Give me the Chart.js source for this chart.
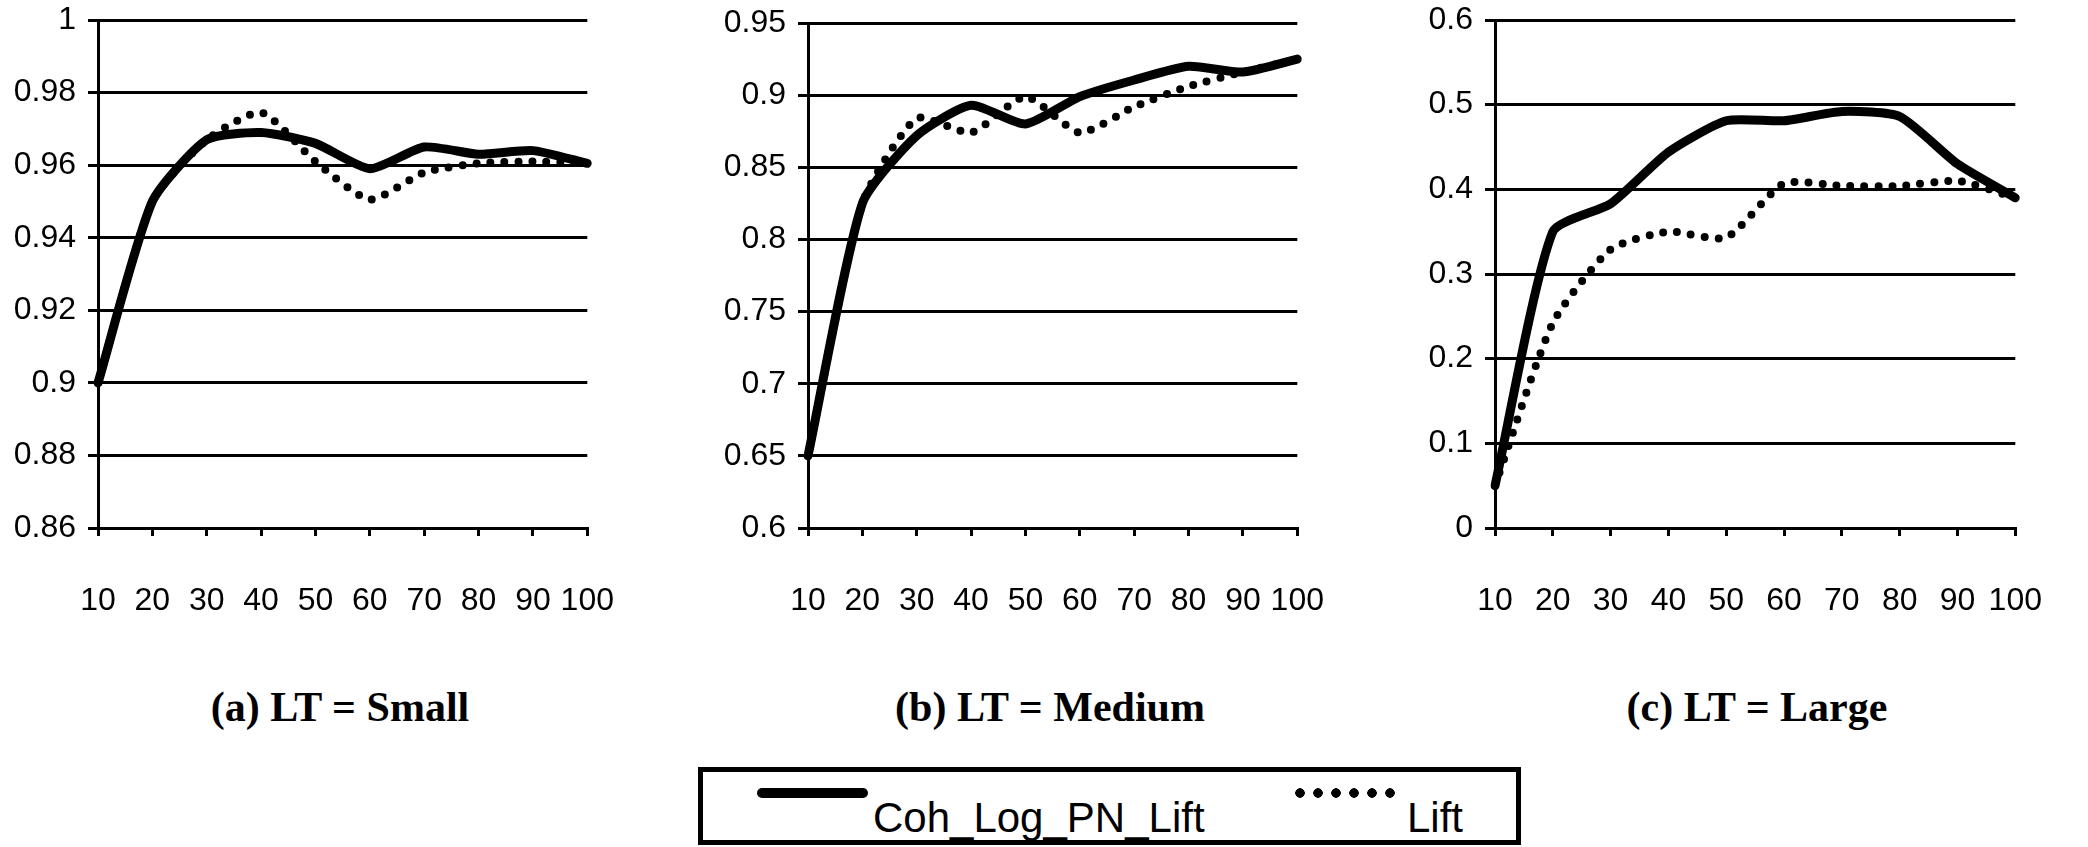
<!DOCTYPE html>
<html>
<head>
<meta charset="utf-8">
<script src="https://cdn.jsdelivr.net/npm/chart.js@4.4.1/dist/chart.umd.min.js"></script>
<style>
  html, body { margin: 0; padding: 0; background: #fff; }
  body { position: relative; width: 2088px; height: 847px; overflow: hidden; }
  canvas { position: absolute; top: 0; }
  .title {
    position: absolute; top: 686px; width: 400px; margin-left: -200px;
    text-align: center; font: bold 42px/42px "Liberation Serif", "Times New Roman", serif; color: #000;
  }
  #legend {
    position: absolute; left: 698px; top: 767px; width: 823px; height: 78px;
    box-sizing: border-box; border: 5px solid #000; background: #fff;
  }
  #legend .txt {
    position: absolute; top: 25px; white-space: nowrap;
    font: 42px/42px "Liberation Sans Narrow", "Liberation Sans", sans-serif; color: #000;
  }
  #legend .solid {
    position: absolute; left: 54px; top: 16px; width: 111px; height: 10px;
    background: #000; border-radius: 5px;
  }
  #legend .dots {
    position: absolute; left: 588px; top: 16px; width: 108px; height: 10px;
    background: radial-gradient(circle, #000 4.5px, transparent 5px) repeat-x;
    background-size: 18px 10px;
  }
</style>
</head>
<body>
<canvas id="small_chart_area" width="660" height="640" style="left:0px;width:660px;height:640px"></canvas>
<canvas id="medium_chart_area" width="660" height="640" style="left:710px;width:660px;height:640px"></canvas>
<canvas id="large_chart_area" width="691" height="640" style="left:1397px;width:691px;height:640px"></canvas>

<div class="title" style="left:340px">(a) LT = Small</div>
<div class="title" style="left:1050px">(b) LT = Medium</div>
<div class="title" style="left:1757px">(c) LT = Large</div>

<div id="legend">
  <div class="solid"></div>
  <div class="txt" style="left:170px">Coh_Log_PN_Lift</div>
  <div class="dots"></div>
  <div class="txt" style="left:704px">Lift</div>
</div>

<script>
// x categories (shared by all three panels)
const x_labels = ["10", "20", "30", "40", "50", "60", "70", "80", "90", "100"];

// (a) LT = Small
const small_coh_log_pn_lift = [0.9, 0.95, 0.967, 0.969, 0.966, 0.959, 0.965, 0.963, 0.964, 0.9605];
const small_lift = [0.9, 0.95, 0.967, 0.9745, 0.961, 0.9505, 0.958, 0.9605, 0.961, 0.9605];
const small_y = { min: 0.86, max: 1, step: 0.02 };

// (b) LT = Medium
const medium_coh_log_pn_lift = [0.65, 0.825, 0.872, 0.893, 0.88, 0.899, 0.9105, 0.92, 0.916, 0.925];
const medium_lift = [0.65, 0.825, 0.884, 0.874, 0.899, 0.874, 0.892, 0.906, 0.916, 0.925];
const medium_y = { min: 0.6, max: 0.95, step: 0.05 };

// (c) LT = Large
const large_coh_log_pn_lift = [0.05, 0.35, 0.383, 0.444, 0.481, 0.481, 0.492, 0.486, 0.43, 0.39];
const large_lift = [0.05, 0.242, 0.329, 0.35, 0.343, 0.407, 0.404, 0.404, 0.41, 0.39];
const large_y = { min: 0, max: 0.6, step: 0.1 };

const FONT_FAMILY = "'Liberation Sans Narrow', 'Liberation Sans', sans-serif";

function panel(canvas_id, coh, lift, y_range, top_pad, right_pad) {
  const ctx = document.getElementById(canvas_id).getContext("2d");
  return new Chart(ctx, {
    type: "line",
    data: {
      labels: x_labels,
      datasets: [
        {
          label: "Coh_Log_PN_Lift",
          data: coh,
          borderColor: "#000",
          borderWidth: 9,
          borderCapStyle: "round",
          borderJoinStyle: "round",
          pointRadius: 0,
          tension: 0.2,
        },
        {
          label: "Lift",
          data: lift,
          borderColor: "#000",
          borderWidth: 8,
          borderDash: [0, 14],
          borderCapStyle: "round",
          pointRadius: 0,
          tension: 0.2,
        },
      ],
    },
    options: {
      responsive: false,
      animation: false,
      layout: { padding: { top: top_pad, right: right_pad, left: 0, bottom: 0 } },
      plugins: { legend: { display: false }, tooltip: { enabled: false } },
      scales: {
        x: {
          type: "category",
          offset: false,
          grid: { drawOnChartArea: false, drawTicks: true, tickLength: 8, color: "#000", lineWidth: 3 },
          border: { display: true, color: "#000", width: 3 },
          ticks: {
            color: "#000",
            font: { family: FONT_FAMILY, size: 32 },
            padding: 46,
            maxRotation: 0,
            autoSkip: false,
          },
          afterFit: (scale) => { scale.height = 112; },
        },
        y: {
          min: y_range.min,
          max: y_range.max,
          grid: { color: "#000", lineWidth: 3, tickLength: 10 },
          border: { display: true, color: "#000", width: 3 },
          ticks: {
            stepSize: y_range.step,
            color: "#000",
            font: { family: FONT_FAMILY, size: 32, lineHeight: 0.5 },
            padding: 12,
            callback: (v) => String(Number(v.toFixed(3))),
          },
          afterFit: (scale) => { scale.width = 98; },
        },
      },
    },
  });
}

const small_chart = panel("small_chart_area", small_coh_log_pn_lift, small_lift, small_y, 20, 32);
const medium_chart = panel("medium_chart_area", medium_coh_log_pn_lift, medium_lift, medium_y, 23, 33);
const large_chart = panel("large_chart_area", large_coh_log_pn_lift, large_lift, large_y, 17, 44);
</script>
</body>
</html>
